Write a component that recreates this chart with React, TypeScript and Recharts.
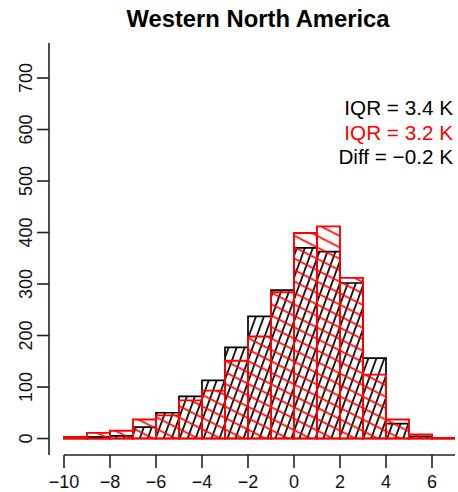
import React from 'react';
import { BarChart, Bar, XAxis, YAxis, ReferenceLine } from 'recharts';

// histogram bins (1 K wide), given by their centres
const binCenters = [-9.5, -8.5, -7.5, -6.5, -5.5, -4.5, -3.5, -2.5, -1.5, -0.5, 0.5, 1.5, 2.5, 3.5, 4.5, 5.5, 6.5];
const blackCounts = [1, 3, 5, 22, 50, 82, 113, 177, 237, 288, 370, 363, 302, 156, 29, 4, 1];
const redCounts = [3, 11, 15, 37, 45, 74, 93, 151, 198, 284, 399, 412, 312, 124, 37, 8, 1];

const xTicks = [-10, -8, -6, -4, -2, 0, 2, 4, 6];
const yTicks = [0, 100, 200, 300, 400, 500, 600, 700];

const title = 'Western North America';
const notes = [
  { text: 'IQR = 3.4 K', color: '#000000' },
  { text: 'IQR = 3.2 K', color: '#ff0000' },
  { text: 'Diff = \u22120.2 K', color: '#000000' },
];

const FONT = '"Liberation Sans", Arial, Helvetica, sans-serif';
const AXIS = '#222';

const data = binCenters.map((x, i) => ({ x, black: blackCounts[i], red: redCounts[i] }));

const fmt = (v: number) => String(v).replace('-', '\u2212');

function XTick(props: any) {
  const { x, y, payload } = props;
  return (
    <text x={x} y={y + 18} textAnchor="middle" fontSize={18} fontFamily={FONT} fill="#111">
      {fmt(payload.value)}
    </text>
  );
}

function YTick(props: any) {
  const { x, y, payload } = props;
  return (
    <text
      x={x}
      y={y}
      transform={`rotate(-90, ${x}, ${y})`}
      textAnchor="middle"
      fontSize={18}
      fontFamily={FONT}
      fill="#111"
    >
      {fmt(payload.value)}
    </text>
  );
}

export default function App() {
  return (
    <div style={{ position: 'relative', width: 458, height: 492, background: '#fff' }}>
      <style>{'body{margin:0}'}</style>
      <BarChart
        width={458}
        height={492}
        data={data}
        margin={{ top: 43, right: 3, bottom: 0, left: 0 }}
        barCategoryGap={0}
        barGap={0}
      >
        <defs>
          <pattern id="hatchBlack" patternUnits="userSpaceOnUse" width="7.5" height="20" patternTransform="rotate(20)">
            <line x1="3.75" y1="-5" x2="3.75" y2="25" stroke="#000" strokeWidth="1.7" />
          </pattern>
          <pattern id="hatchRed" patternUnits="userSpaceOnUse" width="20" height="10.2" patternTransform="rotate(27)">
            <line x1="-5" y1="5" x2="25" y2="5" stroke="#ff0000" strokeWidth="1.7" />
          </pattern>
        </defs>
        <XAxis
          xAxisId="a"
          dataKey="x"
          type="number"
          domain={[-10.652, 7]}
          allowDataOverflow
          ticks={xTicks}
          interval={0}
          height={37}
          tickSize={13}
          axisLine={false}
          tickLine={{ stroke: AXIS, strokeWidth: 1.6 }}
          tick={<XTick />}
        />
        <XAxis xAxisId="b" dataKey="x" type="number" domain={[-10.652, 7]} allowDataOverflow hide />
        <YAxis
          domain={[-32, 768]}
          allowDataOverflow
          ticks={yTicks}
          interval={0}
          width={49}
          tickSize={12}
          tickMargin={5}
          axisLine={{ stroke: AXIS, strokeWidth: 1.6 }}
          tickLine={{ stroke: AXIS, strokeWidth: 1.6 }}
          tick={<YTick />}
        />
        <Bar xAxisId="a" dataKey="black" fill="url(#hatchBlack)" stroke="#000" strokeWidth={1.7} isAnimationActive={false} />
        <Bar xAxisId="b" dataKey="red" fill="url(#hatchRed)" stroke="#ff0000" strokeWidth={1.9} isAnimationActive={false} />
        <ReferenceLine
          xAxisId="a"
          segment={[{ x: -10, y: -32 }, { x: 7, y: -32 }]}
          stroke={AXIS}
          strokeWidth={1.6}
          ifOverflow="visible"
        />
      </BarChart>
      <svg width={458} height={492} style={{ position: 'absolute', left: 0, top: 0, pointerEvents: 'none' }}>
        <text x={258} y={27} textAnchor="middle" fontSize={23.8} fontWeight="bold" fontFamily={FONT} fill="#000">
          {title}
        </text>
        {notes.map((n, i) => (
          <text key={i} x={453} y={115 + i * 24.5} textAnchor="end" fontSize={20.7} fontFamily={FONT} fill={n.color}>
            {n.text}
          </text>
        ))}
      </svg>
    </div>
  );
}
